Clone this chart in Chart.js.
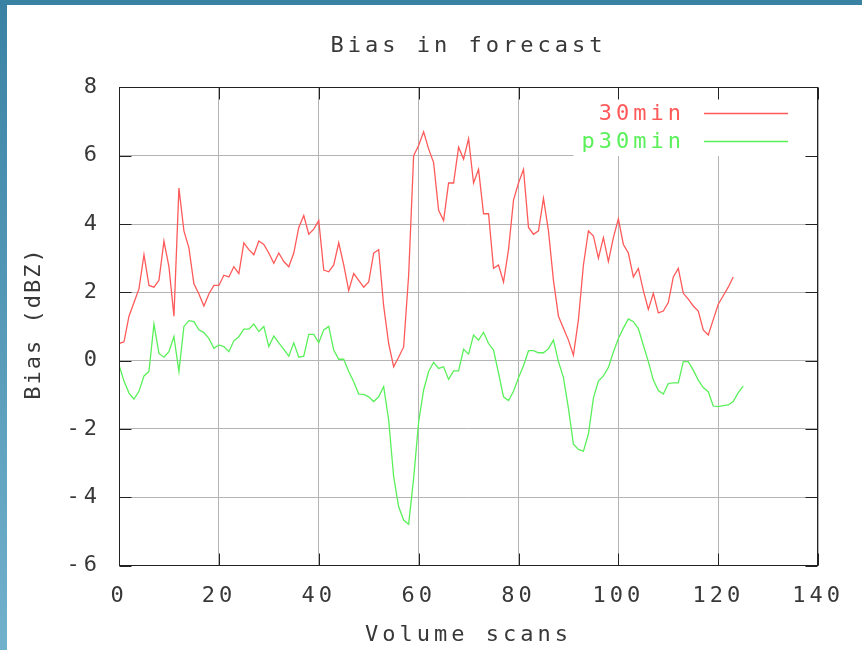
<!DOCTYPE html>
<html>
<head>
<meta charset="utf-8">
<title>Bias in forecast</title>
<script src="https://cdn.jsdelivr.net/npm/chart.js@4.4.1/dist/chart.umd.min.js"></script>
<style>
  html, body { margin: 0; padding: 0; background: #fff; }
  #wrap { position: relative; width: 862px; height: 650px; }
  canvas { display: block; }
</style>
</head>
<body>
<div id="wrap"><canvas id="chart" width="862" height="650"></canvas></div>
<script>
// Forecast bias per volume scan, in dBZ
const bias30 = [
  0.5, 0.55, 1.3, 1.7, 2.1, 3.1, 2.2, 2.15, 2.35, 3.5,
  2.75, 1.3, 5.05, 3.8, 3.3, 2.25, 1.95, 1.6, 1.95, 2.2,
  2.2, 2.5, 2.45, 2.75, 2.55, 3.45, 3.25, 3.1, 3.5, 3.4,
  3.15, 2.85, 3.15, 2.9, 2.75, 3.15, 3.9, 4.25, 3.7, 3.85,
  4.1, 2.65, 2.6, 2.8, 3.45, 2.8, 2.05, 2.55, 2.35, 2.15,
  2.3, 3.15, 3.25, 1.6, 0.5, -0.18, 0.1, 0.4, 2.5, 6.0,
  6.3, 6.7, 6.2, 5.8, 4.4, 4.1, 5.2, 5.2, 6.25, 5.9,
  6.5, 5.2, 5.6, 4.3, 4.3, 2.7, 2.8, 2.3, 3.25, 4.7,
  5.2, 5.6, 3.9, 3.7, 3.8, 4.75, 3.8, 2.35, 1.3, 0.95,
  0.6, 0.16, 1.2, 2.8, 3.8, 3.65, 3.0, 3.6, 2.9, 3.6,
  4.15, 3.4, 3.15, 2.45, 2.7, 2.05, 1.5, 1.97, 1.4, 1.45,
  1.7, 2.45, 2.7, 1.97, 1.8, 1.6, 1.45, 0.9, 0.75, 1.2,
  1.65, 1.9, 2.15, 2.45
];

const biasP30 = [
  -0.13, -0.6, -0.95, -1.13, -0.9, -0.45, -0.32, 1.07, 0.21, 0.1,
  0.26, 0.7, -0.32, 1.0, 1.17, 1.14, 0.9, 0.82, 0.65, 0.36,
  0.46, 0.41, 0.26, 0.58, 0.7, 0.92, 0.92, 1.07, 0.85, 1.0,
  0.41, 0.72, 0.52, 0.33, 0.13, 0.52, 0.1, 0.13, 0.77, 0.77,
  0.52, 0.9, 1.0, 0.31, 0.04, 0.04, -0.32, -0.62, -0.98, -0.99,
  -1.06, -1.2, -1.06, -0.76, -1.74, -3.4, -4.28, -4.67, -4.79, -3.45,
  -1.8, -0.86, -0.32, -0.05, -0.23, -0.18, -0.55, -0.3, -0.3, 0.33,
  0.19, 0.75, 0.6, 0.83, 0.5, 0.31, -0.37, -1.06, -1.17, -0.9,
  -0.5, -0.15, 0.29, 0.29, 0.23, 0.23, 0.35, 0.6, -0.03, -0.5,
  -1.4, -2.45, -2.6, -2.65, -2.15, -1.1, -0.6, -0.45, -0.2, 0.25,
  0.65, 0.95, 1.22, 1.14, 0.94, 0.45, -0.03, -0.57, -0.88, -0.98,
  -0.67, -0.65, -0.65, -0.03, -0.03, -0.28, -0.57, -0.79, -0.91, -1.33,
  -1.35, -1.32, -1.3, -1.2, -0.94, -0.75
];

const seriesNames = ['30min', 'p30min'];
const seriesColors = ['#ff5a5a', '#5af05a'];
const xTicks = [0, 20, 40, 60, 80, 100, 120, 140];
const yTicks = [-6, -4, -2, 0, 2, 4, 6, 8];
const yTitle = 'Bias (dBZ)';

const FONT = "'DejaVu Sans Mono', 'Liberation Mono', monospace";
const INK = '#383838';

// scan index -> point
const toPoints = arr => arr.map((v, i) => ({ x: i, y: v }));

// Spread the letters a little, the way the plotting terminal does
const spacing = {
  id: 'spacing',
  beforeLayout(chart) { chart.ctx.letterSpacing = '4px'; },
  beforeDraw(chart) { chart.ctx.letterSpacing = '4px'; }
};

// Blue frame along the top and left of the page
const frame = {
  id: 'frame',
  beforeDraw(chart) {
    const { ctx, width, height } = chart;
    ctx.save();
    ctx.fillStyle = '#ffffff';
    ctx.fillRect(0, 0, width, height);
    const g = ctx.createLinearGradient(0, 0, 0, height);
    g.addColorStop(0, '#3a82a4');
    g.addColorStop(1, '#72b1cc');
    ctx.fillStyle = g;
    ctx.fillRect(0, 0, 7, height);
    ctx.fillStyle = '#3a82a4';
    ctx.fillRect(0, 0, width, 5);
    ctx.restore();
  }
};

// Key area is kept clear of grid lines
const keyBackground = {
  id: 'keyBackground',
  beforeDatasetsDraw(chart) {
    const { ctx, chartArea, scales } = chart;
    const y6 = Math.round(scales.y.getPixelForValue(6));
    const xl = scales.x.getPixelForValue(91);
    ctx.save();
    ctx.fillStyle = '#ffffff';
    ctx.fillRect(xl, chartArea.top + 1, chartArea.right - xl - 1, y6 - chartArea.top - 1);
    ctx.restore();
  }
};

// Frame box, inward tick marks, rotated y title and the key
const decorations = {
  id: 'decorations',
  afterDatasetsDraw(chart) {
    const { ctx, chartArea, scales } = chart;
    const { left, right, top, bottom } = chartArea;
    const L = Math.round(left) + 0.5, R = Math.round(right) - 0.5;
    const T = Math.round(top) + 0.5, B = Math.round(bottom) - 0.5;
    const len = 12;
    ctx.save();
    ctx.strokeStyle = '#222';
    ctx.lineWidth = 1;
    ctx.beginPath();
    xTicks.forEach(v => {
      const px = Math.round(scales.x.getPixelForValue(v)) + 0.5;
      ctx.moveTo(px, B); ctx.lineTo(px, B - len);
      ctx.moveTo(px, T); ctx.lineTo(px, T + len);
    });
    yTicks.forEach(v => {
      const py = Math.round(scales.y.getPixelForValue(v)) + 0.5;
      ctx.moveTo(L, py); ctx.lineTo(L + len, py);
      ctx.moveTo(R, py); ctx.lineTo(R - len, py);
    });
    ctx.stroke();
    ctx.strokeRect(L, T, R - L, B - T);

    ctx.font = '22px ' + FONT;
    ctx.textBaseline = 'middle';

    // y axis title, set a little tighter
    ctx.save();
    ctx.letterSpacing = '2px';
    ctx.fillStyle = INK;
    ctx.textAlign = 'center';
    ctx.translate(34.5, (top + bottom) / 2 - 3);
    ctx.rotate(-Math.PI / 2);
    ctx.fillText(yTitle, 0, 0);
    ctx.restore();

    // key: label then a short line sample
    ctx.letterSpacing = '4px';
    ctx.textAlign = 'right';
    chart.data.datasets.forEach((ds, i) => {
      const y = Math.round(top + 25.5 + i * 28.5) + 0.5;
      ctx.fillStyle = ds.borderColor;
      ctx.fillText(ds.label, left + 566, y + 1);
      ctx.strokeStyle = ds.borderColor;
      ctx.lineWidth = 1.3;
      ctx.beginPath();
      ctx.moveTo(left + 585, y);
      ctx.lineTo(left + 669, y);
      ctx.stroke();
    });
    ctx.restore();
  }
};

Chart.defaults.font.family = FONT;
Chart.defaults.color = INK;

new Chart(document.getElementById('chart'), {
  type: 'line',
  data: {
    datasets: [
      { label: seriesNames[0], data: toPoints(bias30), borderColor: seriesColors[0] },
      { label: seriesNames[1], data: toPoints(biasP30), borderColor: seriesColors[1] }
    ]
  },
  options: {
    responsive: false,
    animation: false,
    devicePixelRatio: 1,
    layout: { padding: { left: 0, right: 40, top: 0, bottom: 0 } },
    elements: {
      line: { borderWidth: 1.3, tension: 0, fill: false },
      point: { radius: 0, hoverRadius: 0 }
    },
    plugins: {
      legend: { display: false },
      tooltip: { enabled: false },
      title: {
        display: true,
        fullSize: false,
        text: 'Bias in forecast',
        color: INK,
        font: { size: 22, weight: 'normal', family: FONT },
        padding: { top: 33, bottom: 28 }
      }
    },
    scales: {
      x: {
        type: 'linear',
        min: 0, max: 140,
        afterBuildTicks: s => { s.ticks = xTicks.map(v => ({ value: v })); },
        afterFit: s => { s.height = 84.5; },
        grid: { color: '#b4b4b4', lineWidth: 1, drawTicks: false },
        border: { display: false },
        ticks: { padding: 18, maxRotation: 0, font: { size: 22 }, color: INK },
        title: {
          display: true, text: 'Volume scans', color: INK,
          font: { size: 22, family: FONT }, padding: { top: 0, bottom: 2 }
        }
      },
      y: {
        type: 'linear',
        min: -6, max: 8,
        afterBuildTicks: s => { s.ticks = yTicks.map(v => ({ value: v })); },
        afterFit: s => { s.width = 119; },
        grid: { color: '#b4b4b4', lineWidth: 1, drawTicks: false },
        border: { display: false },
        ticks: { padding: 18, font: { size: 22 }, color: INK }
      }
    }
  },
  plugins: [spacing, frame, keyBackground, decorations]
});
</script>
</body>
</html>
